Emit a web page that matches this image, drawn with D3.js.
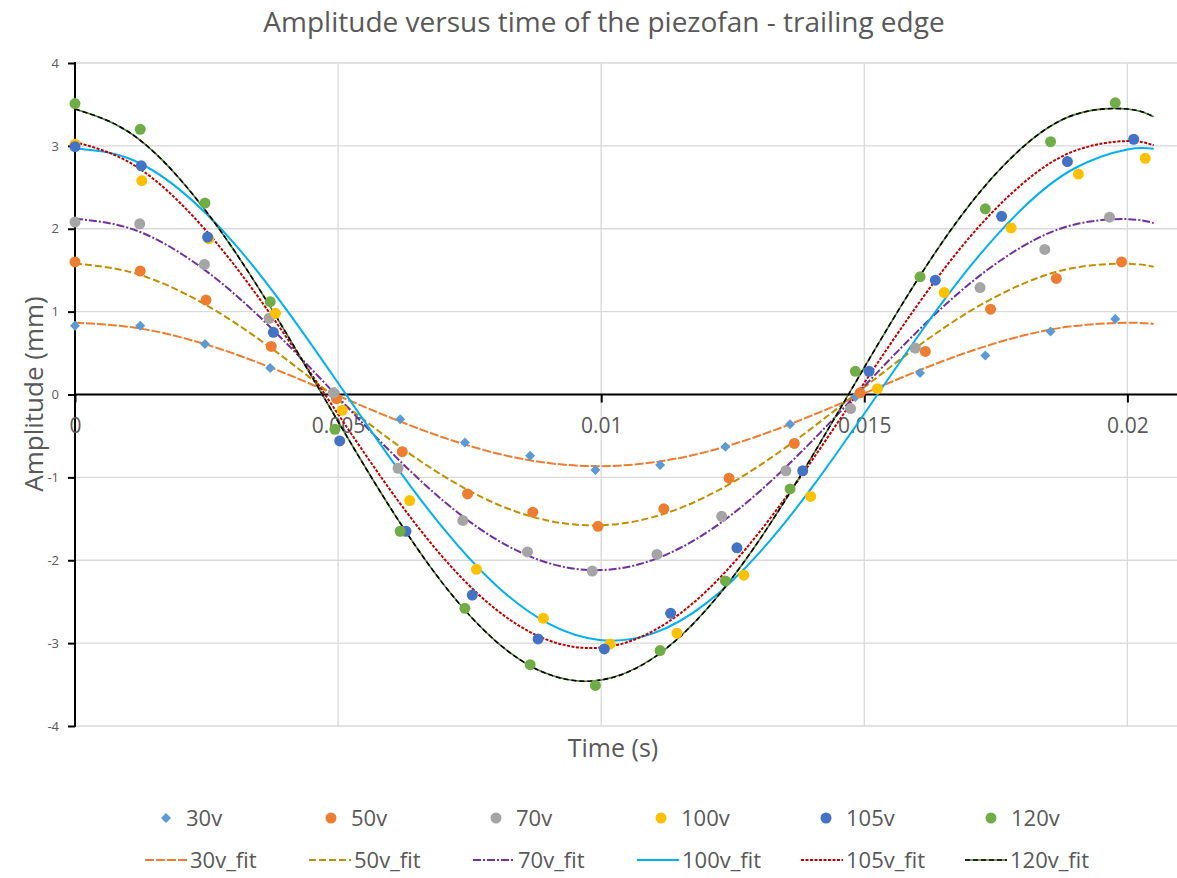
<!DOCTYPE html>
<html>
<head>
<meta charset="utf-8">
<script src="https://cdn.jsdelivr.net/npm/d3@7"></script>
<style>
  body { margin: 0; background: #ffffff; }
  text { font-family: "Open Sans", "Noto Sans", sans-serif; fill: #595959; }
</style>
</head>
<body>
<script>
// measured series (time in s, amplitude in mm)
var t30 = [0, 0.00124, 0.00247, 0.00371, 0.00494, 0.00618, 0.00741, 0.00865, 0.00989, 0.01112, 0.01236, 0.01359, 0.01483, 0.01606, 0.0173, 0.01854, 0.01977];
var v30 = [0.83, 0.83, 0.61, 0.32, 0.03, -0.30, -0.58, -0.74, -0.91, -0.85, -0.63, -0.36, -0.03, 0.26, 0.47, 0.76, 0.91];
var t50 = [0, 0.00124, 0.00249, 0.00373, 0.00497, 0.00622, 0.00746, 0.0087, 0.00994, 0.01119, 0.01243, 0.01367, 0.01492, 0.01616, 0.0174, 0.01865, 0.01989];
var v50 = [1.60, 1.49, 1.14, 0.58, -0.05, -0.69, -1.20, -1.42, -1.59, -1.38, -1.01, -0.59, 0.02, 0.52, 1.03, 1.40, 1.60];
var t70 = [0, 0.00123, 0.00246, 0.00369, 0.00491, 0.00614, 0.00737, 0.0086, 0.00983, 0.01106, 0.01229, 0.01351, 0.01474, 0.01597, 0.0172, 0.01843, 0.01966];
var v70 = [2.08, 2.06, 1.57, 0.92, 0.02, -0.89, -1.52, -1.90, -2.13, -1.93, -1.47, -0.92, -0.17, 0.56, 1.29, 1.75, 2.14];
var t100 = [0, 0.00127, 0.00254, 0.00381, 0.00508, 0.00636, 0.00763, 0.0089, 0.01017, 0.01144, 0.01271, 0.01398, 0.01525, 0.01652, 0.01779, 0.01907, 0.02034];
var v100 = [3.02, 2.58, 1.88, 0.98, -0.19, -1.28, -2.11, -2.70, -3.01, -2.88, -2.18, -1.23, 0.07, 1.23, 2.01, 2.66, 2.85];
var t105 = [0, 0.00126, 0.00252, 0.00377, 0.00503, 0.00629, 0.00755, 0.0088, 0.01006, 0.01132, 0.01258, 0.01383, 0.01509, 0.01635, 0.01761, 0.01886, 0.02012];
var v105 = [2.99, 2.76, 1.90, 0.75, -0.56, -1.65, -2.42, -2.95, -3.07, -2.64, -1.85, -0.92, 0.28, 1.38, 2.15, 2.81, 3.08];
var t120 = [0, 0.00124, 0.00247, 0.00371, 0.00494, 0.00618, 0.00741, 0.00865, 0.00989, 0.01112, 0.01236, 0.01359, 0.01483, 0.01606, 0.0173, 0.01854, 0.01977];
var v120 = [3.51, 3.20, 2.31, 1.12, -0.42, -1.65, -2.58, -3.26, -3.51, -3.09, -2.25, -1.14, 0.28, 1.42, 2.24, 3.05, 3.52];

// fitted curves at these times
var tFit = [0, 0.001, 0.002, 0.003, 0.004, 0.005, 0.006, 0.007, 0.008, 0.009, 0.010, 0.011, 0.012, 0.013, 0.014, 0.015, 0.016, 0.017, 0.018, 0.019, 0.020, 0.0205];
var fit30 = [0.865, 0.818, 0.692, 0.497, 0.254, -0.014, -0.280, -0.519, -0.708, -0.827, -0.865, -0.818, -0.692, -0.497, -0.254, 0.014, 0.280, 0.519, 0.708, 0.827, 0.865, 0.852];
var fit50 = [1.579, 1.486, 1.245, 0.882, 0.431, -0.062, -0.550, -0.982, -1.318, -1.523, -1.578, -1.477, -1.230, -0.861, -0.407, 0.087, 0.573, 1.002, 1.332, 1.530, 1.577, 1.542];
var fit70 = [2.120, 2.014, 1.707, 1.230, 0.630, -0.033, -0.693, -1.283, -1.746, -2.034, -2.119, -1.992, -1.667, -1.175, -0.566, 0.100, 0.756, 1.336, 1.783, 2.052, 2.116, 2.068];
var fit100 = [2.969, 2.854, 2.466, 1.842, 1.040, 0.139, -0.776, -1.616, -2.301, -2.765, -2.964, -2.879, -2.517, -1.914, -1.127, -0.232, 0.685, 1.536, 2.241, 2.730, 2.957, 2.964];
var fit105 = [3.047, 2.813, 2.310, 1.584, 0.708, -0.237, -1.160, -1.971, -2.593, -2.966, -3.054, -2.849, -2.372, -1.666, -0.801, 0.141, 1.070, 1.896, 2.540, 2.940, 3.058, 3.007];
var fit120 = [3.445, 3.176, 2.595, 1.761, 0.755, -0.326, -1.374, -2.288, -2.978, -3.377, -3.445, -3.176, -2.595, -1.761, -0.755, 0.326, 1.374, 2.288, 2.978, 3.377, 3.445, 3.351];

var seriesNames = ["30v", "50v", "70v", "100v", "105v", "120v"];
var fitNames = ["30v_fit", "50v_fit", "70v_fit", "100v_fit", "105v_fit", "120v_fit"];
var xTicks = [0, 0.005, 0.01, 0.015, 0.02];
var yTicks = [-4, -3, -2, -1, 0, 1, 2, 3, 4];

var pointColors = ["#5B9BD5", "#ED7D31", "#A5A5A5", "#FFC000", "#4472C4", "#70AD47"];
var fitColors = ["#ED7D31", "#BF9000", "#7030A0", "#00B0F0", "#C00000", "#000000"];
var fitDash = ["9,2", "7,3", "8,2,2,2", null, "3,1.5", "5,3"];
var fitUnder = [null, null, null, null, null, "#4E7A2F"];

var width = 1177, height = 878;
var svg = d3.select("body").append("svg")
    .attr("width", width)
    .attr("height", height);

var x = d3.scaleLinear().domain([0, 0.021]).range([75, 1180]);
var y = d3.scaleLinear().domain([-4, 4]).range([726, 63]);

// grid
svg.append("g").selectAll("line")
    .data(yTicks).enter().append("line")
    .attr("x1", 75).attr("x2", width)
    .attr("y1", function(d) { return y(d); })
    .attr("y2", function(d) { return y(d); })
    .style("stroke", "#D9D9D9").style("stroke-width", 1.3);

svg.append("g").selectAll("line")
    .data(xTicks.slice(1)).enter().append("line")
    .attr("x1", function(d) { return x(d); })
    .attr("x2", function(d) { return x(d); })
    .attr("y1", y(4)).attr("y2", y(-4))
    .style("stroke", "#D9D9D9").style("stroke-width", 1.3);

// axes
var yAxis = svg.append("g")
    .attr("transform", "translate(" + x(0) + ",0)")
    .call(d3.axisLeft(y).tickValues(yTicks).tickSize(7).tickPadding(9)
        .tickFormat(function(d) { return String(d); }));
yAxis.select(".domain").remove();
yAxis.selectAll("line").style("stroke", "#000").style("stroke-width", 2);
yAxis.selectAll("text").style("font-size", "13px").style("fill", "#595959");
svg.append("line")
    .attr("x1", x(0)).attr("x2", x(0))
    .attr("y1", y(4) - 1).attr("y2", y(-4) + 1)
    .style("stroke", "#000").style("stroke-width", 2);

var xAxis = svg.append("g")
    .attr("transform", "translate(0," + y(0) + ")")
    .call(d3.axisBottom(x).tickValues(xTicks).tickSize(8).tickPadding(16)
        .tickFormat(function(d) { return String(d); }));
xAxis.select(".domain").remove();
xAxis.selectAll("line").style("stroke", "#000").style("stroke-width", 2);
xAxis.selectAll("text").style("font-size", "21px").style("fill", "#595959");
svg.append("line")
    .attr("x1", x(0)).attr("x2", width)
    .attr("y1", y(0)).attr("y2", y(0))
    .style("stroke", "#000").style("stroke-width", 2);

// fit curves
var fits = [fit30, fit50, fit70, fit100, fit105, fit120];
var line = d3.line()
    .x(function(d) { return x(d[0]); })
    .y(function(d) { return y(d[1]); })
    .curve(d3.curveNatural);

fits.forEach(function(vals, i) {
    var pts = tFit.map(function(t, j) { return [t, vals[j]]; });
    if (fitUnder[i]) {
        svg.append("path").datum(pts)
            .attr("d", line)
            .attr("fill", "none")
            .style("stroke", fitUnder[i])
            .style("stroke-width", 1.6);
    }
    svg.append("path").datum(pts)
        .attr("d", line)
        .attr("fill", "none")
        .style("stroke", fitColors[i])
        .style("stroke-width", i === 5 ? 1.6 : 2)
        .style("stroke-dasharray", fitDash[i]);
});

// measured points
var times = [t30, t50, t70, t100, t105, t120];
var vals = [v30, v50, v70, v100, v105, v120];
var diamond = d3.symbol().type(d3.symbolSquare).size(50);

vals.forEach(function(v, i) {
    var pts = times[i].map(function(t, j) { return [t, v[j]]; });
    var g = svg.append("g");
    if (i === 0) {
        g.selectAll("path").data(pts).enter().append("path")
            .attr("d", diamond)
            .attr("transform", function(d) { return "translate(" + x(d[0]) + "," + y(d[1]) + ") rotate(45)"; })
            .style("fill", pointColors[i]);
    } else {
        g.selectAll("circle").data(pts).enter().append("circle")
            .attr("cx", function(d) { return x(d[0]); })
            .attr("cy", function(d) { return y(d[1]); })
            .attr("r", 5.5)
            .style("fill", pointColors[i]);
    }
});

// titles
svg.append("text")
    .attr("x", 604).attr("y", 32)
    .attr("text-anchor", "middle")
    .style("font-size", "28px")
    .text("Amplitude versus time of the piezofan - trailing edge");

svg.append("text")
    .attr("transform", "translate(43,394) rotate(-90)")
    .attr("text-anchor", "middle")
    .style("font-size", "26px")
    .text("Amplitude (mm)");

svg.append("text")
    .attr("x", 613).attr("y", 757)
    .attr("text-anchor", "middle")
    .style("font-size", "25px")
    .text("Time (s)");

// legend, row 1: markers
var lg1 = svg.append("g").selectAll("g")
    .data(seriesNames).enter().append("g")
    .attr("transform", function(d, i) { return "translate(" + (166 + i * 165) + ",818)"; });

lg1.each(function(d, i) {
    var g = d3.select(this);
    if (i === 0) {
        g.append("path").attr("d", diamond).attr("transform", "rotate(45)").style("fill", pointColors[i]);
    } else {
        g.append("circle").attr("r", 5.5).style("fill", pointColors[i]);
    }
    g.append("text")
        .attr("x", 20).attr("y", 8)
        .style("font-size", "22px")
        .text(d);
});

// legend, row 2: fit lines
var lg2 = svg.append("g").selectAll("g")
    .data(fitNames).enter().append("g")
    .attr("transform", function(d, i) { return "translate(" + (145 + i * 164) + ",860)"; });

lg2.each(function(d, i) {
    var g = d3.select(this);
    if (fitUnder[i]) {
        g.append("line").attr("x1", 0).attr("x2", 42)
            .style("stroke", fitUnder[i]).style("stroke-width", 1.6);
    }
    g.append("line").attr("x1", 0).attr("x2", 42)
        .style("stroke", fitColors[i])
        .style("stroke-width", i === 5 ? 1.6 : 2)
        .style("stroke-dasharray", fitDash[i]);
    g.append("text")
        .attr("x", 45).attr("y", 8)
        .style("font-size", "22px")
        .text(d);
});
</script>
</body>
</html>
